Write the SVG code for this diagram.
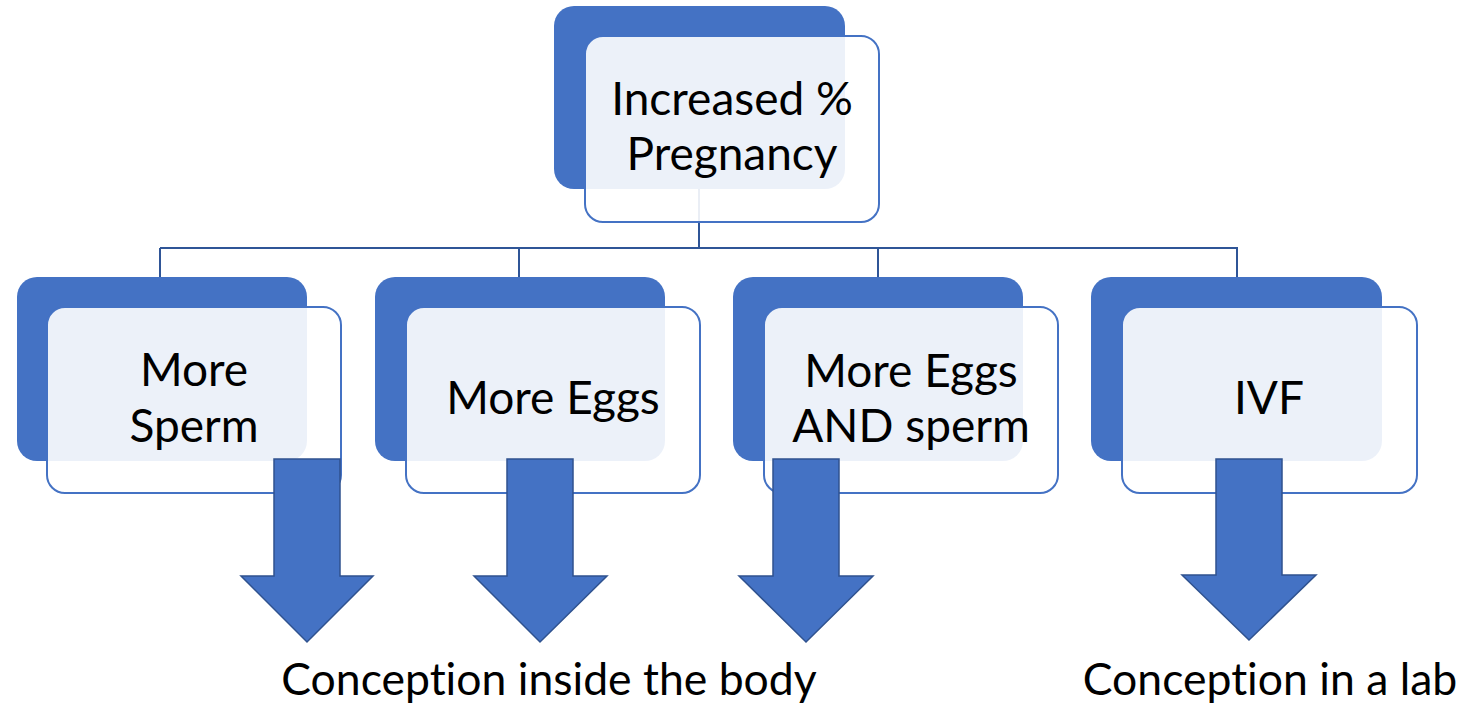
<svg xmlns="http://www.w3.org/2000/svg" width="1466" height="704" viewBox="0 0 1466 704">
  <style>
    .back { fill: #4472c4; }
    .front { fill: #ffffff; fill-opacity: 0.9; stroke: #4472c4; stroke-width: 2; }
    .conn { stroke: #2f5597; stroke-width: 2; fill: none; }
    .arrow { fill: #4472c4; stroke: #2f528f; stroke-width: 1.5; }
    .lbl { font-family: Lato, "Liberation Sans", sans-serif; font-size: 46px; fill: #000; text-anchor: middle; font-variant-ligatures: none; }
    .out { font-size: 44.5px; }
  </style>
  <rect width="1466" height="704" fill="#ffffff"/>
  <g id="connectors">
    <path class="conn" d="M699 189 V248 M160 248 H1238 M160 248 V277 M519 248 V277 M878 248 V277 M1237 248 V277"/>
  </g>
  <g id="node-top">
    <rect class="back" x="554" y="6" width="291" height="183" rx="20"/>
    <rect class="front" x="585" y="36" width="294" height="186" rx="18"/>
    <text class="lbl" x="732" y="115">Increased %</text>
    <text class="lbl" x="732" y="170">Pregnancy</text>
  </g>
  <g id="node-sperm">
    <rect class="back" x="17" y="277" width="290" height="184" rx="20"/>
    <rect class="front" x="47" y="307" width="294" height="186" rx="18"/>
    <text class="lbl" x="194" y="386">More</text>
    <text class="lbl" x="194" y="442">Sperm</text>
  </g>
  <g id="node-eggs">
    <rect class="back" x="375" y="277" width="290" height="184" rx="20"/>
    <rect class="front" x="406" y="307" width="294" height="186" rx="18"/>
    <text class="lbl" x="553" y="414">More Eggs</text>
  </g>
  <g id="node-both">
    <rect class="back" x="733" y="277" width="290" height="184" rx="20"/>
    <rect class="front" x="764" y="307" width="294" height="186" rx="18"/>
    <text class="lbl" x="911" y="387">More Eggs</text>
    <text class="lbl" x="911" y="442">AND sperm</text>
  </g>
  <g id="node-ivf">
    <rect class="back" x="1091" y="277" width="291" height="184" rx="20"/>
    <rect class="front" x="1122" y="307" width="295" height="186" rx="18"/>
    <text class="lbl" x="1269" y="414">IVF</text>
  </g>
  <g id="arrows">
    <path class="arrow" d="M274 459 H340 V576 H373 L307 642 L241 576 H274 Z"/>
    <path class="arrow" d="M507 459 H573 V576 H607 L540 642 L474 576 H507 Z"/>
    <path class="arrow" d="M773 459 H839 V576 H873 L806 642 L739 576 H773 Z"/>
    <path class="arrow" d="M1216 459 H1282 V575 H1316 L1249 640 L1182 575 H1216 Z"/>
  </g>
  <g id="outcomes">
    <text class="lbl out" x="549" y="695">Conception inside the body</text>
    <text class="lbl out" x="1270" y="695">Conception in a lab</text>
  </g>
</svg>
